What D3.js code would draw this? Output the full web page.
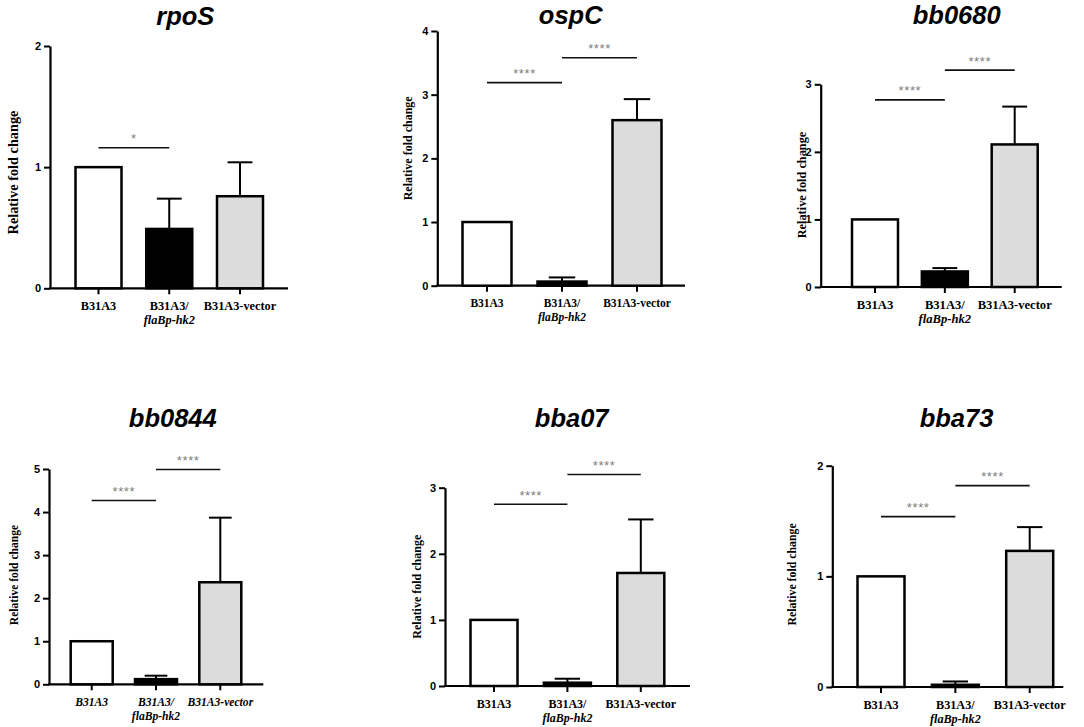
<!DOCTYPE html>
<html><head><meta charset="utf-8">
<script src="https://cdn.jsdelivr.net/npm/d3@7"></script>
<style>
html,body{margin:0;padding:0;background:#fff;}
svg{display:block;}
</style></head>
<body>
<svg id="chart" width="1084" height="727"></svg>
<script>
// ---------------- DATA ----------------
const genes = ["rpoS", "ospC", "bb0680", "bb0844", "bba07", "bba73"];
const strains = ["B31A3", "B31A3/flaBp-hk2", "B31A3-vector"];
const strainLine1 = ["B31A3", "B31A3/", "B31A3-vector"];
const strainLine2 = ["", "flaBp-hk2", ""];
const fills = ["#ffffff", "#000000", "#dcdcdc"];

const rpoS_mean   = [1.00, 0.49, 0.76];
const rpoS_sd     = [0.00, 0.25, 0.28];
const ospC_mean   = [1.00, 0.065, 2.60];
const ospC_sd     = [0.00, 0.065, 0.33];
const bb0680_mean = [1.00, 0.23, 2.11];
const bb0680_sd   = [0.00, 0.05, 0.56];
const bb0844_mean = [1.00, 0.12, 2.37];
const bb0844_sd   = [0.00, 0.08, 1.50];
const bba07_mean  = [1.00, 0.05, 1.71];
const bba07_sd    = [0.00, 0.06, 0.81];
const bba73_mean  = [1.00, 0.02, 1.23];
const bba73_sd    = [0.00, 0.03, 0.215];

const yMax = [2, 4, 3, 5, 3, 2];
const yTicks = [[0,1,2],[0,1,2,3,4],[0,1,2,3],[0,1,2,3,4,5],[0,1,2,3],[0,1,2]];

// significance brackets: [fromIndex, toIndex, yValue, label]
const rpoS_sig   = [[0,1,1.16,"*"]];
const ospC_sig   = [[0,1,3.19,"****"],[1,2,3.58,"****"]];
const bb0680_sig = [[0,1,2.77,"****"],[1,2,3.21,"****"]];
const bb0844_sig = [[0,1,4.27,"****"],[1,2,4.99,"****"]];
const bba07_sig  = [[0,1,2.75,"****"],[1,2,3.20,"****"]];
const bba73_sig  = [[0,1,1.54,"****"],[1,2,1.82,"****"]];

const means = [rpoS_mean, ospC_mean, bb0680_mean, bb0844_mean, bba07_mean, bba73_mean];
const sds   = [rpoS_sd, ospC_sd, bb0680_sd, bb0844_sd, bba07_sd, bba73_sd];
const sigs  = [rpoS_sig, ospC_sig, bb0680_sig, bb0844_sig, bba07_sig, bba73_sig];

// ---------------- LAYOUT ----------------
const axisLeft    = [50, 437.3, 820.7, 49, 445, 832.3];
const axisRight   = [288, 685, 1061.7, 263.3, 690, 1063.3];
const yBottom     = [288.3, 285.7, 287, 684.3, 686, 687];
const yTop        = [46, 31, 84.3, 469, 487.7, 465.7];
const firstCenter = [98.5, 487, 875, 91.7, 494, 881];
const lastCenter  = [240, 637, 1014.7, 220.3, 640.8, 1029.7];
const barW        = [46, 49, 46, 42, 47, 47];
const titleX      = [185.3, 570.7, 956.7, 172.8, 571.7, 956.5];
const titleY      = [25, 24, 23.5, 427.3, 427.3, 427.3];
const ylabX       = [17.5, 411.5, 806, 17.5, 420.5, 795.5];
const ylabY       = [172.5, 148.3, 185, 575, 586.7, 574.5];
const ylabSize    = [14.3, 12, 12.3, 11.6, 12, 11.8];
const xlabSize    = [12.3, 11.5, 12.6, 11.6, 12, 12.2];
const xlabItalic  = [false, false, false, true, false, false];

const SANS = "'Liberation Sans', Arial, sans-serif";
const SERIF = "'Liberation Serif', 'Times New Roman', serif";

const svg = d3.select("#chart");
svg.append("rect").attr("width",1084).attr("height",727).attr("fill","#fff");

genes.forEach((gene, i) => {
  const g = svg.append("g");
  const y = d3.scaleLinear().domain([0, yMax[i]]).range([yBottom[i], yTop[i]]);
  const x = d3.scalePoint().domain(strains).range([firstCenter[i], lastCenter[i]]);
  const bw = barW[i];

  // title
  g.append("text").attr("x", titleX[i]).attr("y", titleY[i])
    .attr("text-anchor","middle")
    .attr("font-family", SANS).attr("font-weight","bold").attr("font-style","italic")
    .attr("font-size", 25.5).attr("fill","#000").text(gene);

  // y axis
  const ya = g.append("g").attr("transform", `translate(${axisLeft[i]},0)`)
    .call(d3.axisLeft(y).tickValues(yTicks[i]).tickFormat(d3.format("d")).tickSize(6).tickSizeOuter(0).tickPadding(3));
  ya.select(".domain").attr("stroke","#000").attr("stroke-width",2.2);
  ya.selectAll(".tick line").attr("stroke","#000").attr("stroke-width",2);
  ya.selectAll(".tick text").attr("font-family", SANS).attr("font-weight","bold")
    .attr("font-size", 11).attr("fill","#000");

  // x axis line
  g.append("line").attr("x1", axisLeft[i] - 1).attr("x2", axisRight[i])
    .attr("y1", y(0)).attr("y2", y(0)).attr("stroke","#000").attr("stroke-width",2.2);

  // y label
  g.append("text")
    .attr("transform", `translate(${ylabX[i]},${ylabY[i]}) rotate(-90)`)
    .attr("text-anchor","middle")
    .attr("font-family", SERIF).attr("font-weight","bold")
    .attr("font-size", ylabSize[i]).attr("fill","#000")
    .text("Relative fold change");

  // bars
  g.selectAll("rect.bar").data(strains).enter().append("rect")
    .attr("class","bar")
    .attr("x", d => x(d) - bw/2)
    .attr("width", bw)
    .attr("y", (d,j) => y(means[i][j]))
    .attr("height", (d,j) => y(0) - y(means[i][j]))
    .attr("fill", (d,j) => fills[j])
    .attr("stroke","#000").attr("stroke-width",2.5);

  // error bars (upper only)
  strains.forEach((s, j) => {
    if (sds[i][j] <= 0) return;
    const top = y(means[i][j] + sds[i][j]);
    const bot = y(means[i][j]);
    g.append("line").attr("x1", x(s)).attr("x2", x(s)).attr("y1", bot).attr("y2", top)
      .attr("stroke","#000").attr("stroke-width",2);
    g.append("line").attr("x1", x(s) - bw*0.27).attr("x2", x(s) + bw*0.27)
      .attr("y1", top).attr("y2", top).attr("stroke","#000").attr("stroke-width",2);
  });

  // x ticks
  strains.forEach(s => {
    g.append("line").attr("x1", x(s)).attr("x2", x(s))
      .attr("y1", y(0)).attr("y2", y(0) + 6).attr("stroke","#000").attr("stroke-width",2);
  });

  // x labels
  strains.forEach((s, j) => {
    const t = g.append("text").attr("x", x(s)).attr("y", y(0) + 21.5)
      .attr("text-anchor","middle").attr("font-family", SERIF).attr("font-weight","bold")
      .attr("font-size", xlabSize[i]).attr("fill","#000")
      .attr("font-style", xlabItalic[i] ? "italic" : "normal")
      .text(strainLine1[j]);
    if (strainLine2[j]) {
      g.append("text").attr("x", x(s)).attr("y", y(0) + 35.5)
        .attr("text-anchor","middle").attr("font-family", SERIF).attr("font-weight","bold")
        .attr("font-style","italic")
        .attr("font-size", xlabSize[i]).attr("fill","#000")
        .text(strainLine2[j]);
    }
  });

  // significance brackets
  sigs[i].forEach(sg => {
    const x1 = x(strains[sg[0]]), x2 = x(strains[sg[1]]);
    const yy = y(sg[2]);
    g.append("line").attr("x1", x1).attr("x2", x2).attr("y1", yy).attr("y2", yy)
      .attr("stroke","#111").attr("stroke-width",1.6);
    g.append("text").attr("x", (x1 + x2)/2).attr("y", yy - 4.5)
      .attr("text-anchor","middle").attr("font-family", SANS)
      .attr("font-size", 13).attr("letter-spacing", 0.6).attr("fill","#808080")
      .text(sg[3]);
  });
});
</script>
</body></html>
